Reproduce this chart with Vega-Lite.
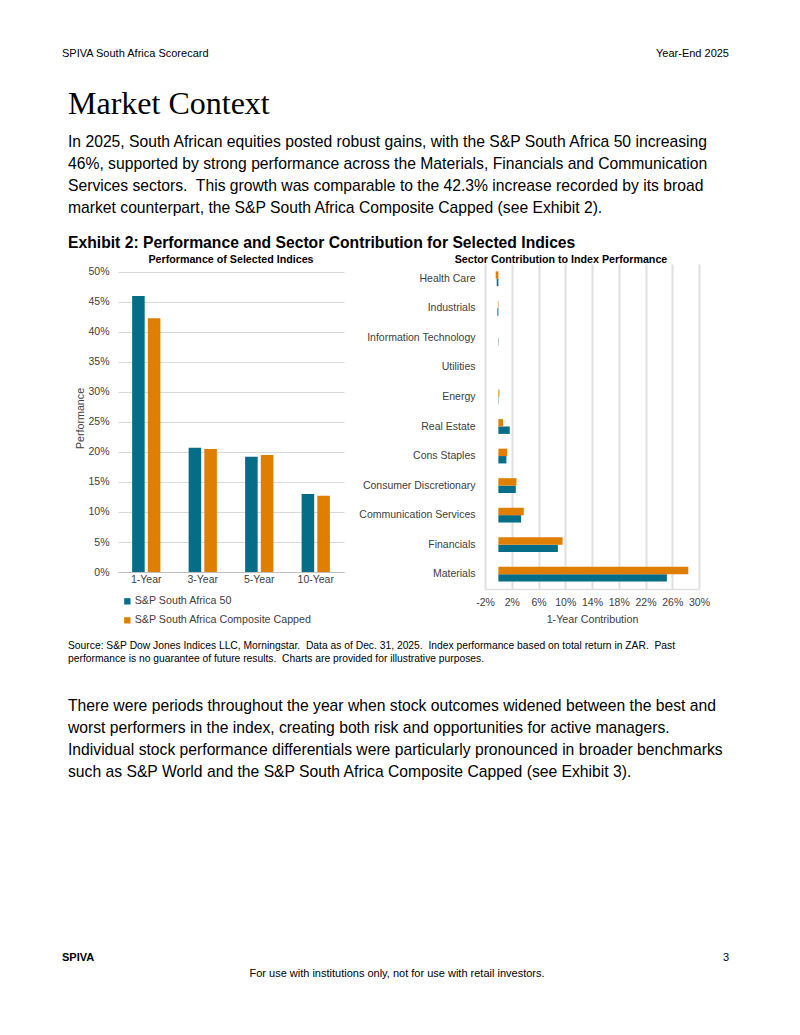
{
  "$schema": "https://vega.github.io/schema/vega-lite/v6.json",
  "background": "white",
  "padding": {"left": 62, "top": 48, "right": 0, "bottom": 0},
  "spacing": 0,
  "config": {
    "font": "Liberation Sans",
    "view": {"stroke": null},
    "title": {"color": "#000000", "fontWeight": "normal", "anchor": "start", "offset": 0},
    "axis": {"labelFont": "Liberation Sans", "labelColor": "#404040", "titleColor": "#404040", "titleFontWeight": "normal", "labelFontSize": 10.5, "titleFontSize": 10.7, "gridColor": "#d9d9d9", "ticks": false, "domain": false},
    "legend": {"labelFont": "Liberation Sans", "labelColor": "#404040", "labelFontSize": 10.7}
  },
  "datasets": {
    "perf": [
      {"period": "1-Year", "index": "S&P South Africa 50", "value": 46.0},
      {"period": "1-Year", "index": "S&P South Africa Composite Capped", "value": 42.3},
      {"period": "3-Year", "index": "S&P South Africa 50", "value": 20.7},
      {"period": "3-Year", "index": "S&P South Africa Composite Capped", "value": 20.5},
      {"period": "5-Year", "index": "S&P South Africa 50", "value": 19.2},
      {"period": "5-Year", "index": "S&P South Africa Composite Capped", "value": 19.5},
      {"period": "10-Year", "index": "S&P South Africa 50", "value": 13.0},
      {"period": "10-Year", "index": "S&P South Africa Composite Capped", "value": 12.7}
    ],
    "sector": [
      {"sector": "Health Care", "index": "S&P South Africa 50", "value": -0.25},
      {"sector": "Health Care", "index": "S&P South Africa Composite Capped", "value": -0.4},
      {"sector": "Industrials", "index": "S&P South Africa 50", "value": -0.15},
      {"sector": "Industrials", "index": "S&P South Africa Composite Capped", "value": -0.08},
      {"sector": "Information Technology", "index": "S&P South Africa 50", "value": 0.05},
      {"sector": "Information Technology", "index": "S&P South Africa Composite Capped", "value": 0.0},
      {"sector": "Utilities", "index": "S&P South Africa 50", "value": 0.0},
      {"sector": "Utilities", "index": "S&P South Africa Composite Capped", "value": 0.0},
      {"sector": "Energy", "index": "S&P South Africa 50", "value": 0.05},
      {"sector": "Energy", "index": "S&P South Africa Composite Capped", "value": 0.15},
      {"sector": "Real Estate", "index": "S&P South Africa 50", "value": 1.7},
      {"sector": "Real Estate", "index": "S&P South Africa Composite Capped", "value": 0.7},
      {"sector": "Cons Staples", "index": "S&P South Africa 50", "value": 1.2},
      {"sector": "Cons Staples", "index": "S&P South Africa Composite Capped", "value": 1.3},
      {"sector": "Consumer Discretionary", "index": "S&P South Africa 50", "value": 2.6},
      {"sector": "Consumer Discretionary", "index": "S&P South Africa Composite Capped", "value": 2.7},
      {"sector": "Communication Services", "index": "S&P South Africa 50", "value": 3.4},
      {"sector": "Communication Services", "index": "S&P South Africa Composite Capped", "value": 3.8},
      {"sector": "Financials", "index": "S&P South Africa 50", "value": 8.9},
      {"sector": "Financials", "index": "S&P South Africa Composite Capped", "value": 9.6},
      {"sector": "Materials", "index": "S&P South Africa 50", "value": 25.2},
      {"sector": "Materials", "index": "S&P South Africa Composite Capped", "value": 28.4}
    ]
  },
  "vconcat": [
    {
      "spacing": 0,
      "hconcat": [
        {"width": 335, "height": 25, "data": {"values": [{}]}, "mark": {"type": "point", "opacity": 0, "size": 0},
         "title": {"text": "SPIVA South Africa Scorecard", "fontSize": 11, "anchor": "start"}},
        {"width": 332, "height": 25, "data": {"values": [{}]}, "mark": {"type": "point", "opacity": 0, "size": 0},
         "title": {"text": "Year-End 2025", "fontSize": 11, "anchor": "end"}}
      ]
    },
    {
      "width": 670, "height": 13, "data": {"values": [{}]}, "mark": {"type": "point", "opacity": 0, "size": 0},
      "title": {
        "text": "Market Context", "font": "Liberation Serif", "fontSize": 32, "dx": 6,
        "subtitle": [
          "In 2025, South African equities posted robust gains, with the S&P South Africa 50 increasing",
          "46%, supported by strong performance across the Materials, Financials and Communication",
          "Services sectors.\u00a0 This growth was comparable to the 42.3% increase recorded by its broad",
          "market counterpart, the S&P South Africa Composite Capped (see Exhibit 2)."
        ],
        "subtitleFont": "Liberation Sans", "subtitleFontSize": 15.7, "subtitleLineHeight": 22, "subtitlePadding": 14, "subtitleColor": "#000000"
      }
    },
    {
      "spacing": 0,
      "title": {"text": "Exhibit 2: Performance and Sector Contribution for Selected Indices", "fontSize": 15.7, "fontWeight": "bold", "dx": 6, "offset": 3},
      "resolve": {"scale": {"color": "independent"}},
      "hconcat": [
        {"width": 12, "height": 376, "data": {"values": [{}]}, "mark": {"type": "point", "opacity": 0, "size": 0}},
        {
          "width": 226, "height": 308,
          "title": {"text": "Performance of Selected Indices", "fontSize": 10.7, "fontWeight": "bold", "anchor": "middle", "offset": -2},
          "data": {"name": "perf"},
          "mark": {"type": "bar"},
          "encoding": {
            "x": {"field": "period", "type": "nominal", "sort": ["1-Year", "3-Year", "5-Year", "10-Year"],
                  "scale": {"paddingInner": 0.5, "paddingOuter": 0.25},
                  "axis": {"title": null, "labelAngle": 0, "labelPadding": 2, "domain": true, "domainColor": "#bfbfbf"}},
            "xOffset": {"field": "index", "type": "nominal", "sort": ["S&P South Africa 50", "S&P South Africa Composite Capped"], "scale": {"paddingInner": 0.2}},
            "y": {"field": "value", "type": "quantitative", "scale": {"domain": [0, 51.3333], "nice": false},
                  "axis": {"title": "Performance", "values": [0, 5, 10, 15, 20, 25, 30, 35, 40, 45, 50], "labelExpr": "datum.value + '%'", "labelPadding": 9, "titlePadding": 2}},
            "color": {"field": "index", "type": "nominal",
                      "scale": {"domain": ["S&P South Africa 50", "S&P South Africa Composite Capped"], "range": ["#056d87", "#e07e00"]},
                      "legend": {"title": null, "orient": "bottom", "direction": "vertical", "symbolType": "square", "symbolSize": 40, "rowPadding": 7, "offset": 11, "padding": 0, "symbolOffset": 4, "labelOffset": 2, "labelLimit": 300}}
          }
        },
        {
          "width": 214, "height": 325,
          "title": {"text": "Sector Contribution to Index Performance", "fontSize": 10.7, "fontWeight": "bold", "anchor": "middle", "frame": "group", "dx": -31, "offset": -2},
          "data": {"name": "sector"},
          "mark": {"type": "bar"},
          "encoding": {
            "y": {"field": "sector", "type": "nominal",
                  "sort": ["Health Care", "Industrials", "Information Technology", "Utilities", "Energy", "Real Estate", "Cons Staples", "Consumer Discretionary", "Communication Services", "Financials", "Materials"],
                  "scale": {"paddingInner": 0.5, "paddingOuter": 0.25},
                  "axis": {"title": null, "labelPadding": 10, "minExtent": 141}},
            "yOffset": {"field": "index", "type": "nominal", "sort": ["S&P South Africa Composite Capped", "S&P South Africa 50"]},
            "x": {"field": "value", "type": "quantitative", "scale": {"domain": [-2, 30], "nice": false},
                  "axis": {"title": "1-Year Contribution", "values": [-2, 2, 6, 10, 14, 18, 22, 26, 30], "labelExpr": "datum.value + '%'", "labelOverlap": false, "labelFlush": false, "labelPadding": 8, "titlePadding": 7, "gridWidth": 2, "gridColor": "#e0e0e0", "domain": true, "domainColor": "#e0e0e0", "domainWidth": 1.5}},
            "color": {"field": "index", "type": "nominal",
                      "scale": {"domain": ["S&P South Africa 50", "S&P South Africa Composite Capped"], "range": ["#056d87", "#e07e00"]},
                      "legend": null}
          }
        }
      ]
    },
    {
      "width": 670, "height": 30, "data": {"values": [{}]}, "mark": {"type": "point", "opacity": 0, "size": 0},
      "title": {
        "text": [
          "Source: S&P Dow Jones Indices LLC, Morningstar.\u00a0 Data as of Dec. 31, 2025.\u00a0 Index performance based on total return in ZAR.\u00a0 Past",
          "performance is no guarantee of future results.\u00a0 Charts are provided for illustrative purposes."
        ],
        "fontSize": 10.3, "lineHeight": 13, "dx": 6, "color": "#000000"
      }
    },
    {
      "width": 670, "height": 167, "data": {"values": [{}]}, "mark": {"type": "point", "opacity": 0, "size": 0},
      "title": {
        "text": [
          "There were periods throughout the year when stock outcomes widened between the best and",
          "worst performers in the index, creating both risk and opportunities for active managers.",
          "Individual stock performance differentials were particularly pronounced in broader benchmarks",
          "such as S&P World and the S&P South Africa Composite Capped (see Exhibit 3)."
        ],
        "fontSize": 15.7, "lineHeight": 22, "dx": 6
      }
    },
    {
      "spacing": 0,
      "hconcat": [
        {"width": 335, "height": 1, "data": {"values": [{}]}, "mark": {"type": "point", "opacity": 0, "size": 0},
         "title": {"text": "SPIVA", "fontSize": 11, "fontWeight": "bold", "anchor": "start"}},
        {"width": 332, "height": 1, "data": {"values": [{}]}, "mark": {"type": "point", "opacity": 0, "size": 0},
         "title": {"text": "3", "fontSize": 11, "anchor": "end"}}
      ]
    },
    {
      "width": 670, "height": 1, "data": {"values": [{}]}, "mark": {"type": "point", "opacity": 0, "size": 0},
      "title": {"text": "For use with institutions only, not for use with retail investors.", "fontSize": 11, "anchor": "middle"}
    }
  ]
}
